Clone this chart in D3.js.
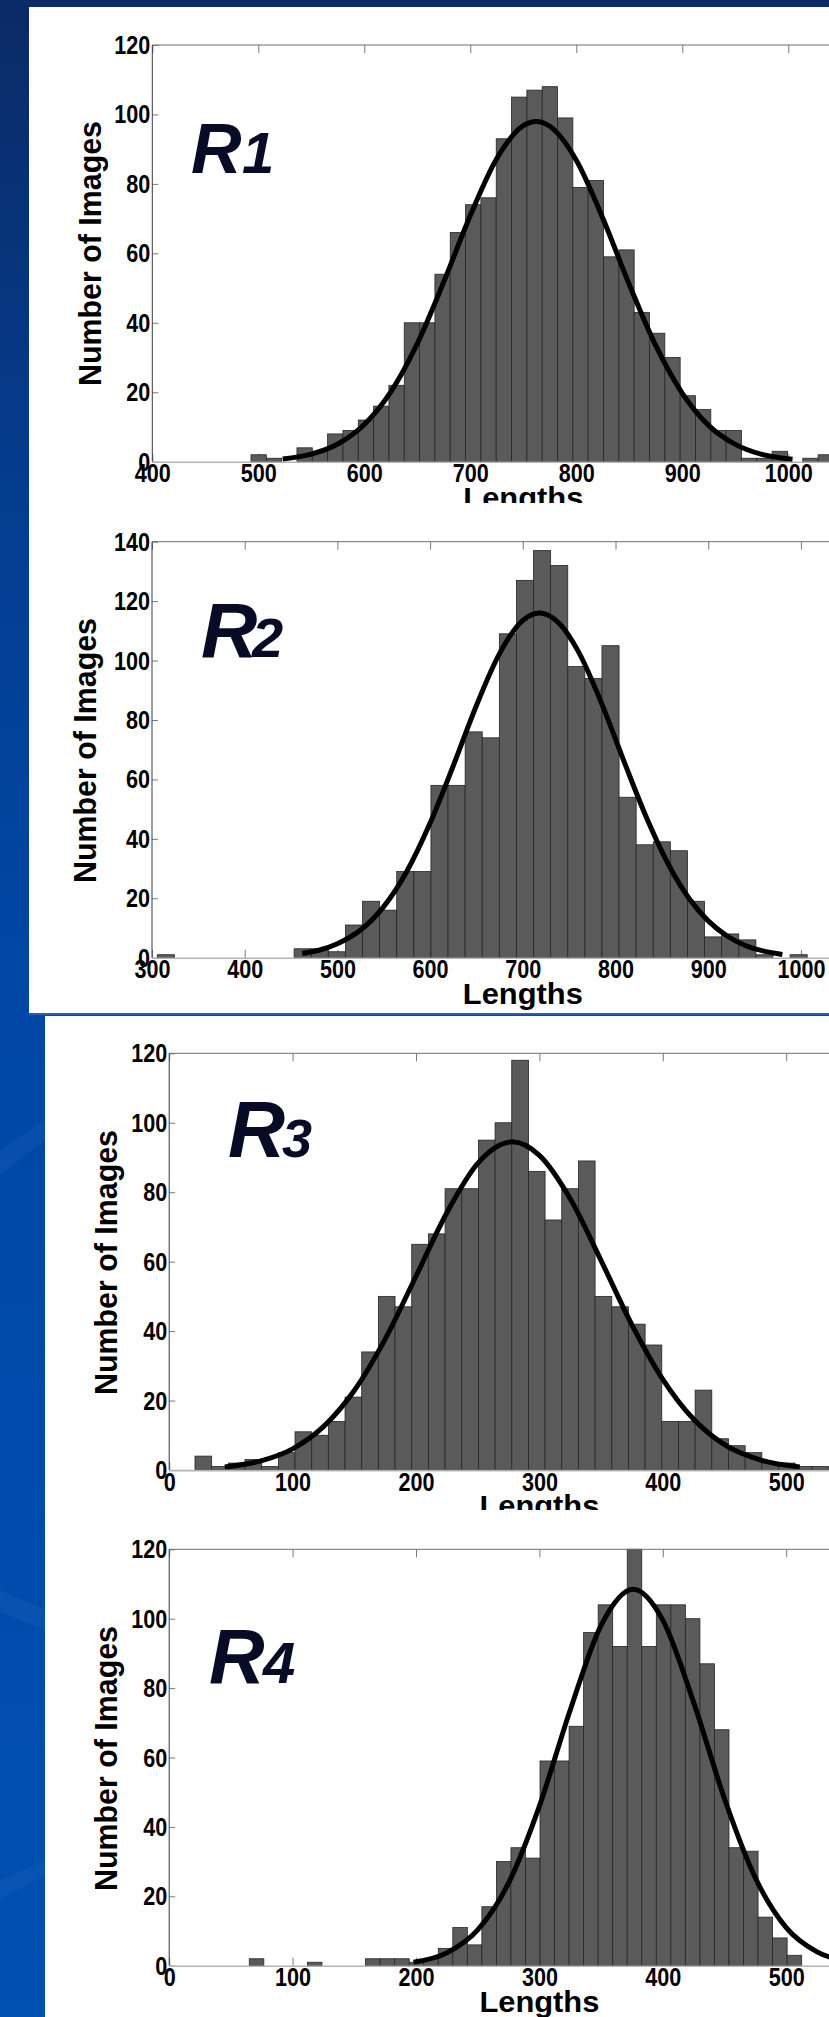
<!DOCTYPE html>
<html>
<head>
<meta charset="utf-8">
<script src="https://cdn.jsdelivr.net/npm/d3@7"></script>
<style>
html, body { margin: 0; padding: 0; overflow: hidden; background: #0a3a8a; }
</style>
</head>
<body>
<div id="chart"></div>
<script>
var W = 829, H = 2017;

// R1 histogram (counts per bin)
var r1Counts = [2,1,0,4,3,8,9,12,16,22,40,40,54,66,74,76,93,105,107,108,99,79,81,59,61,43,37,30,19,15,9,9,1,1,3,0,1,2];
var r1BinStart = 493.1, r1BinWidth = 14.46;
var r1CurveX = [523,550,575,600,625,650,675,700,725,750,762,775,800,825,850,875,900,925,950,975,1004];
var r1CurveY = [0.8,2.2,5.1,10.7,20.1,34.0,51.8,70.9,87.3,96.8,98,96.6,86.8,70.1,51.0,33.4,19.7,10.4,5.0,2.1,0.7];
var r1XTicks = [400,500,600,700,800,900,1000,1100];
var r1YTicks = [0,20,40,60,80,100,120];

// R2
var r2Counts = [1,0,0,0,0,0,0,0,3,3,2,11,19,16,29,29,58,58,76,74,109,127,137,132,98,94,105,54,38,39,36,19,7,8,6,1,0,1];
var r2BinStart = 305.7, r2BinWidth = 18.45;
var r2CurveX = [462,480,500,525,550,575,600,625,650,675,700,718,740,760,785,810,835,860,880,900,920,940,960,980];
var r2CurveY = [1.4,2.5,4.7,9.3,17.2,29.1,45.3,64.6,84.9,102.4,113.5,116,112.3,103.0,85.6,65.4,46.0,29.7,19.7,12.4,7.4,4.1,2.2,1.1];
var r2XTicks = [300,400,500,600,700,800,900,1000,1100];
var r2YTicks = [0,20,40,60,80,100,120,140];

// R3
var r3Counts = [4,1,2,3,1,5,11,10,14,21,34,50,47,65,68,81,81,95,100,118,86,72,81,89,50,47,42,36,14,14,23,9,7,5,2,2,1,1];
var r3BinStart = 20.9, r3BinWidth = 13.51;
var r3CurveX = [45,75,100,125,150,175,200,225,250,278,300,325,350,375,400,425,450,480,511];
var r3CurveY = [0.9,2.7,6.1,12.5,22.9,37.7,55.8,74.1,88.3,94.5,90.6,78.1,60.3,41.8,26.1,14.6,7.3,2.8,0.9];
var r3XTicks = [0,100,200,300,400,500,600];
var r3YTicks = [0,20,40,60,80,100,120];

// R4
var r4Counts = [2,0,0,0,1,0,0,0,2,2,2,1,2,5,11,6,17,30,34,31,59,59,69,96,104,92,120,92,104,104,100,87,68,34,33,14,8,3];
var r4BinStart = 64.9, r4BinWidth = 11.78;
var r4CurveX = [198,225,250,275,300,325,350,376,400,425,450,475,500,525,550,575];
var r4CurveY = [1.0,3.7,10.3,23.8,46.0,73.7,98.1,108.5,99.6,75.9,48.1,25.3,11.0,4.0,1.2,0.3];
var r4XTicks = [0,100,200,300,400,500,600];
var r4YTicks = [0,20,40,60,80,100,120];

// layout of each panel on the page
var plots = [
  {tag:"1", counts:r1Counts, binStart:r1BinStart, binWidth:r1BinWidth, cx:r1CurveX, cy:r1CurveY, xTicks:r1XTicks, yTicks:r1YTicks,
   left:152.3, right:894.3, top:45, bottom:461.7, clipBottom:503,
   yTitleX:101, yTitleY:253.5, rX:191, rSize:70, subX:242, subSize:58, rY:173},
  {tag:"2", counts:r2Counts, binStart:r2BinStart, binWidth:r2BinWidth, cx:r2CurveX, cy:r2CurveY, xTicks:r2XTicks, yTicks:r2YTicks,
   left:152, right:893.6, top:541.7, bottom:957.7, clipBottom:1013,
   yTitleX:96, yTitleY:750.5, rX:201, rSize:78, subX:252, subSize:56, rY:657},
  {tag:"3", counts:r3Counts, binStart:r3BinStart, binWidth:r3BinWidth, cx:r3CurveX, cy:r3CurveY, xTicks:r3XTicks, yTicks:r3YTicks,
   left:169.2, right:909.6, top:1053.3, bottom:1470, clipBottom:1510,
   yTitleX:117, yTitleY:1262.5, rX:228, rSize:79, subX:282, subSize:54, rY:1157},
  {tag:"4", counts:r4Counts, binStart:r4BinStart, binWidth:r4BinWidth, cx:r4CurveX, cy:r4CurveY, xTicks:r4XTicks, yTicks:r4YTicks,
   left:169.2, right:909.6, top:1549.3, bottom:1965.7, clipBottom:H,
   yTitleX:117, yTitleY:1758.5, rX:209, rSize:77, subX:263, subSize:58, rY:1683}
];

var FONT = "'Liberation Sans', Arial, Helvetica, sans-serif";

var svg = d3.select("#chart").append("svg")
            .attr("width", W)
            .attr("height", H);

var defs = svg.append("defs");
var grad = defs.append("linearGradient")
               .attr("id", "bg")
               .attr("x1", 0).attr("y1", 0).attr("x2", 0).attr("y2", 1);
grad.append("stop").attr("offset", "0%").attr("stop-color", "#0b2a66");
grad.append("stop").attr("offset", "25%").attr("stop-color", "#043d90");
grad.append("stop").attr("offset", "50%").attr("stop-color", "#0047a6");
grad.append("stop").attr("offset", "100%").attr("stop-color", "#0050b2");

svg.append("rect").attr("width", W).attr("height", H).attr("fill", "url(#bg)");

// faint streaks in the blue margin
svg.append("path").attr("d", "M0,1150 L45,1120 L45,1140 L0,1175 Z").attr("fill", "#ffffff").attr("opacity", 0.035);
svg.append("path").attr("d", "M0,1590 L45,1610 L45,1630 L0,1612 Z").attr("fill", "#ffffff").attr("opacity", 0.035);
svg.append("path").attr("d", "M0,1880 L45,1860 L45,1875 L0,1900 Z").attr("fill", "#ffffff").attr("opacity", 0.03);

// the two white sheets
svg.append("rect").attr("x", 29).attr("y", 7).attr("width", W - 29).attr("height", 1006.3).attr("fill", "#ffffff");
svg.append("rect").attr("x", 29).attr("y", 1013.3).attr("width", W - 29).attr("height", 2).attr("fill", "#1c5db0");
svg.append("rect").attr("x", 45).attr("y", 1016).attr("width", W - 45).attr("height", H - 1016).attr("fill", "#ffffff");

plots.forEach(function(p, k) {
	var x = d3.scaleLinear().domain(d3.extent(p.xTicks)).range([p.left, p.right]);
	var y = d3.scaleLinear().domain([0, d3.max(p.yTicks)]).range([p.bottom, p.top]);

	var g = svg.append("g").attr("class", "plot" + p.tag);

	defs.append("clipPath").attr("id", "clip" + k)
	    .append("rect").attr("x", 0).attr("y", 0).attr("width", W).attr("height", p.clipBottom);

	// inner ticks, bottom and top
	var gxb = g.append("g")
	           .attr("transform", "translate(0," + p.bottom + ")")
	           .call(d3.axisBottom(x).tickValues(p.xTicks).tickSizeInner(-8).tickSizeOuter(0).tickPadding(3).tickFormat(d3.format("d")));
	var gxt = g.append("g")
	           .attr("transform", "translate(0," + p.top + ")")
	           .call(d3.axisTop(x).tickValues(p.xTicks).tickSizeInner(-8).tickSizeOuter(0).tickFormat(function() { return ""; }));
	var gy = g.append("g")
	          .attr("transform", "translate(" + p.left + ",0)")
	          .call(d3.axisLeft(y).tickValues(p.yTicks).tickSizeInner(-6).tickSizeOuter(0).tickPadding(2));

	// labels that fall past the right edge of the page are not shown
	gxb.selectAll(".tick").filter(function(d) { return x(d) + 20 > W; }).select("text").remove();
	gxt.selectAll(".tick text").remove();

	[gxb, gxt, gy].forEach(function(a) {
		a.select(".domain").remove();
		a.selectAll(".tick line").attr("stroke", "#7a7a7a").attr("stroke-width", 1);
		a.selectAll(".tick text")
		 .attr("fill", "#000")
		 .style("font-family", FONT)
		 .style("font-weight", "bold")
		 .style("font-size", "25px")
		 .each(function() {
		 	var n = this.textContent.length;
		 	this.setAttribute("textLength", n * 12);
		 	this.setAttribute("lengthAdjust", "spacingAndGlyphs");
		 });
	});
	gy.selectAll(".tick text").attr("dy", "0.34em");

	// histogram bars
	var bins = p.counts.map(function(c, i) { return {i: i, c: c}; })
	                   .filter(function(d) { return d.c > 0; });
	g.selectAll("rect.bar")
	 .data(bins)
	 .enter()
	 .append("rect")
	 .attr("class", "bar")
	 .attr("x", function(d) { return x(p.binStart + d.i * p.binWidth); })
	 .attr("width", function(d) { return x(p.binStart + (d.i + 1) * p.binWidth) - x(p.binStart + d.i * p.binWidth); })
	 .attr("y", function(d) { return y(d.c); })
	 .attr("height", function(d) { return y(0) - y(d.c); })
	 .attr("fill", "#5a5a5a")
	 .attr("stroke", "#262626")
	 .attr("stroke-width", 0.8);

	// box lines
	g.append("line").attr("x1", p.left).attr("x2", W).attr("y1", p.top).attr("y2", p.top)
	 .attr("stroke", "#6e6e6e").attr("stroke-width", 1);
	g.append("line").attr("x1", p.left).attr("x2", p.left).attr("y1", p.top).attr("y2", p.bottom)
	 .attr("stroke", "#3a3a3a").attr("stroke-width", 1);
	g.append("line").attr("x1", p.left).attr("x2", W).attr("y1", p.bottom + 0.6).attr("y2", p.bottom + 0.6)
	 .attr("stroke", "#b4b4b4").attr("stroke-width", 1.6);

	// fitted curve
	var pts = p.cx.map(function(v, i) { return [v, p.cy[i]]; });
	var line = d3.line()
	             .x(function(d) { return x(d[0]); })
	             .y(function(d) { return y(d[1]); })
	             .curve(d3.curveMonotoneX);
	g.append("path")
	 .attr("d", line(pts))
	 .attr("fill", "none")
	 .attr("stroke", "#000")
	 .attr("stroke-width", 5);

	// axis titles
	g.append("text")
	 .attr("transform", "translate(" + p.yTitleX + "," + p.yTitleY + ") rotate(-90)")
	 .attr("text-anchor", "middle")
	 .attr("textLength", 265)
	 .attr("lengthAdjust", "spacingAndGlyphs")
	 .style("font-family", FONT)
	 .style("font-weight", "bold")
	 .style("font-size", "32px")
	 .attr("fill", "#000")
	 .text("Number of Images");

	g.append("text")
	 .attr("clip-path", "url(#clip" + k + ")")
	 .attr("x", x((x.domain()[0] + x.domain()[1]) / 2))
	 .attr("y", p.bottom + 46)
	 .attr("text-anchor", "middle")
	 .attr("textLength", 120)
	 .attr("lengthAdjust", "spacingAndGlyphs")
	 .style("font-family", FONT)
	 .style("font-weight", "bold")
	 .style("font-size", "29px")
	 .attr("fill", "#000")
	 .text("Lengths");

	// R label
	g.append("text")
	 .attr("x", p.rX).attr("y", p.rY)
	 .style("font-family", FONT).style("font-weight", "bold").style("font-style", "italic")
	 .style("font-size", p.rSize + "px")
	 .attr("fill", "#080b26")
	 .text("R");
	g.append("text")
	 .attr("x", p.subX).attr("y", p.rY)
	 .style("font-family", FONT).style("font-weight", "bold").style("font-style", "italic")
	 .style("font-size", p.subSize + "px")
	 .attr("fill", "#080b26")
	 .text(p.tag);
});
</script>
</body>
</html>
